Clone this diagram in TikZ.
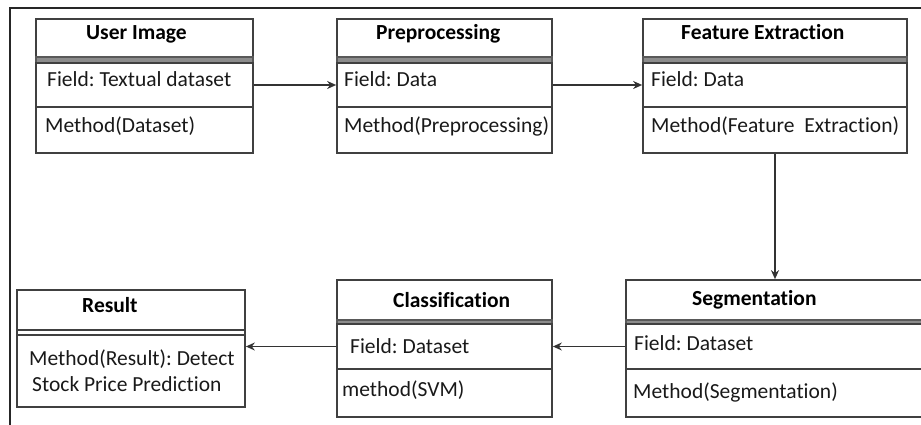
\documentclass[tikz,border=0pt]{standalone}
\usepackage{fontspec}
\setmainfont{Carlito}[Ligatures=NoCommon]
\usetikzlibrary{fit,arrows.meta}
\begin{document}
\frenchspacing
\begin{tikzpicture}[x=1pt,y=-1pt,
  part/.style={draw=black!75, line width=1.7pt, inner sep=0pt},
  band/.style={draw=black!65, line width=1.2pt, fill=black!45, inner sep=0pt},
  dband/.style={draw=black!75, line width=1.4pt, fill=white, inner sep=0pt},
  txt/.style={anchor=base west, inner sep=0pt, font=\fontsize{21.5}{25}\selectfont, text=black!90},
  ttl/.style={anchor=base west, inner sep=0pt, font=\bfseries\fontsize{21.5}{25}\selectfont},
  arr/.style={-{Stealth[length=9pt,width=8pt]}, line width=1.6pt, draw=black!80}]
\useasboundingbox (0,0) rectangle (921,425);
% outer frame
\draw[line width=1.7pt, black!85] (10,425) -- (10,8) -- (921,8);

% User Image
\node[part, fit={(36,19)(253,57)}] (ui-h) {};
\node[band, fit={(36,57)(253,63)}] (ui-b) {};
\node[part, fit={(36,63)(253,107)}] (ui-f) {};
\node[part, fit={(36,107)(253,153)}] (ui-m) {};
\node[ttl] (ui-t) at (86,40) {User Image};
\node[txt] (ui-ft) at (47,87) {Field: Textual dataset};
\node[txt] (ui-mt) at (45,132) {Method(Dataset)};

% Preprocessing
\node[part, fit={(337,19)(552,57)}] (pp-h) {};
\node[band, fit={(337,57)(552,63)}] (pp-b) {};
\node[part, fit={(337,63)(552,107)}] (pp-f) {};
\node[part, fit={(337,107)(552,153)}] (pp-m) {};
\node[ttl] (pp-t) at (376,40) {Preprocessing};
\node[txt] (pp-ft) at (344,87) {Field: Data};
\node[txt] (pp-mt) at (344,132) {Method(Preprocessing)};

% Feature Extraction
\node[part, fit={(643,19)(907,57)}] (fe-h) {};
\node[band, fit={(643,57)(907,63)}] (fe-b) {};
\node[part, fit={(643,63)(907,107)}] (fe-f) {};
\node[part, fit={(643,107)(907,153)}] (fe-m) {};
\node[ttl] (fe-t) at (681,40) {Feature Extraction};
\node[txt] (fe-ft) at (651,87) {Field: Data};
\node[txt] (fe-mt) at (651,132) {Method(Feature\ \ Extraction)};

% Segmentation
\node[part, fit={(626,280)(925,320)}] (sg-h) {};
\node[band, fit={(626,320)(925,324)}] (sg-b) {};
\node[part, fit={(626,324)(925,369)}] (sg-f) {};
\node[part, fit={(626,369)(925,417)}] (sg-m) {};
\node[ttl] (sg-t) at (692,305) {Segmentation};
\node[txt] (sg-ft) at (634,350) {Field: Dataset};
\node[txt] (sg-mt) at (633,398) {Method(Segmentation)};

% Classification
\node[part, fit={(337,280)(552,320)}] (cl-h) {};
\node[band, fit={(337,320)(552,324)}] (cl-b) {};
\node[part, fit={(337,324)(552,369)}] (cl-f) {};
\node[part, fit={(337,369)(552,417)}] (cl-m) {};
\node[ttl] (cl-t) at (393,307) {Classification};
\node[txt] (cl-ft) at (350,353) {Field: Dataset};
\node[txt] (cl-mt) at (342,396) {method(SVM)};

% Result
\node[part, fit={(17,290)(245,330)}] (rs-h) {};
\node[dband, fit={(17,330)(245,335)}] (rs-b) {};
\node[part, fit={(17,335)(245,407)}] (rs-m) {};
\node[ttl] (rs-t) at (82,312) {Result};
\node[txt] (rs-mt1) at (29,365) {Method(Result): Detect};
\node[txt] (rs-mt2) at (32,391) {Stock Price Prediction};

% connectors
\draw[arr] (ui-f.east) -- (pp-f.west);
\draw[arr] (pp-f.east) -- (fe-f.west);
\draw[arr] (fe-m.south) -- (fe-m.south |- sg-h.north);
\draw[arr] (sg-f.west) -- (cl-f.east);
\draw[arr] (cl-f.west) -- (cl-f.west -| rs-m.east);
\end{tikzpicture}
\end{document}
